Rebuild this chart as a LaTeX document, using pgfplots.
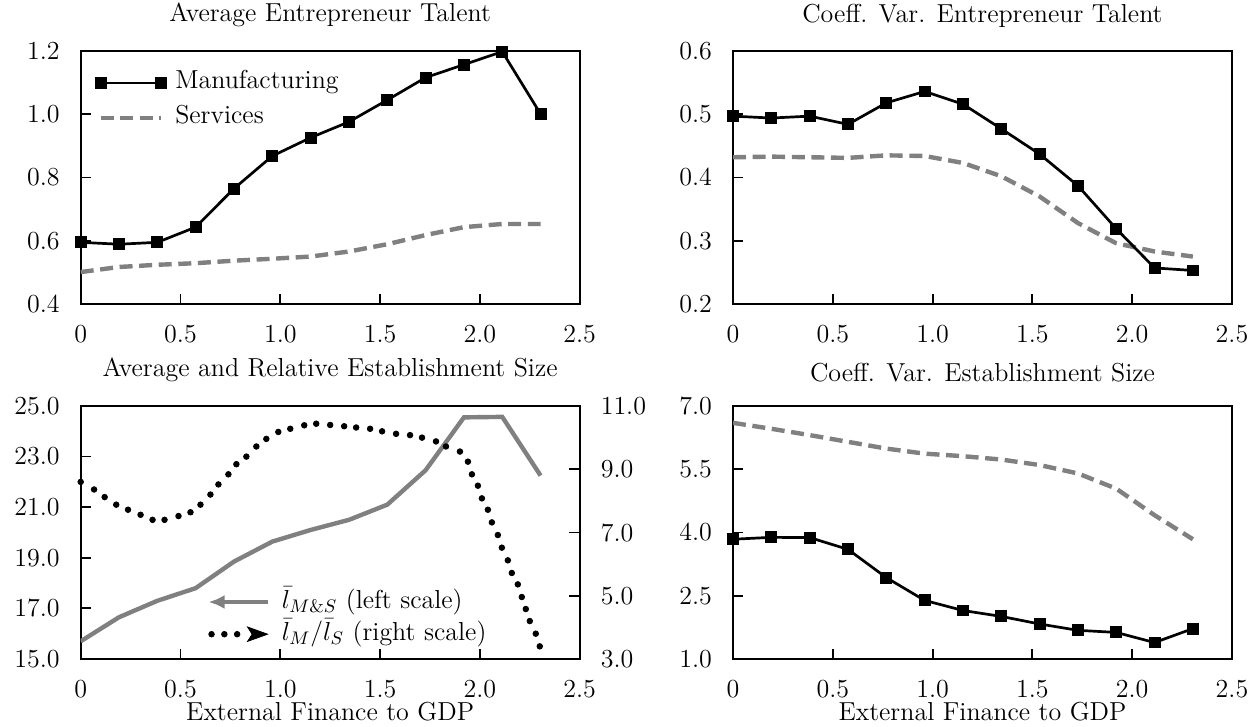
\RequirePackage{fix-cm}
\documentclass[border=0pt]{standalone}
\usepackage{fontspec}
\usepackage{pgfplots}
\pgfplotsset{compat=1.18}
\usetikzlibrary{arrows.meta}
\definecolor{sgray}{RGB}{128,128,128}

\newcommand{\fs}{\fontsize{13}{15.6}\selectfont}

\pgfplotsset{
  panel/.style={
    scale only axis, width=249.5pt, height=126.5pt,
    xmin=0, xmax=2.5,
    xtick={0,0.5,1,1.5,2,2.5},
    xticklabels={0,0.5,1.0,1.5,2.0,2.5},
    tick align=inside, tick pos=left,
    major tick length=5.2pt,
    every tick/.style={black, line width=0.9pt},
    axis line style={line width=1.1pt},
    font=\fs,
    tick label style={font=\fs},
    xticklabel shift=7pt, yticklabel shift=7pt,
    title style={font=\fs, yshift=2.4pt},
    label style={font=\fs},
    xlabel style={yshift=4.5pt},
    /pgf/number format/fixed,
    /pgf/number format/fixed zerofill,
    /pgf/number format/precision=1,
    /pgf/number format/assume math mode=true,
  },
  manu/.style={black, line width=1.35pt, mark=square*, mark size=2.3pt, mark options={solid}},
  serv/.style={sgray, line width=2.2pt, dash pattern=on 6.5pt off 3.3pt},
}

% x grid: 13 finance levels
\pgfplotstableread{
x     tm     ts     cm     cs     em     es     size
0     0.595  0.501  0.497  0.432  3.84   6.60   15.7
0.192 0.589  0.517  0.494  0.433  3.885  6.46   16.65
0.384 0.595  0.524  0.497  0.432  3.88   6.31   17.3
0.576 0.643  0.529  0.484  0.431  3.60   6.15   17.8
0.768 0.765  0.537  0.518  0.435  2.93   5.99   18.85
0.960 0.868  0.543  0.536  0.434  2.39   5.87   19.64
1.152 0.926  0.550  0.516  0.423  2.15   5.81   20.1
1.344 0.976  0.566  0.477  0.402  2.01   5.73   20.5
1.536 1.045  0.589  0.437  0.370  1.83   5.60   21.1
1.728 1.116  0.618  0.387  0.328  1.68   5.40   22.46
1.920 1.157  0.643  0.319  0.296  1.63   5.04   24.55
2.112 1.198  0.653  0.257  0.283  1.39   4.41   24.57
2.304 1.001  0.653  0.253  0.275  1.72   3.84   22.25
}\main

% relative size, right scale (dense dotted curve)
\pgfplotstableread{
x     r
0.00  8.60
0.067 8.36
0.12  8.12
0.178 7.88
0.237 7.72
0.30  7.56
0.36  7.40
0.42  7.40
0.49  7.52
0.55  7.64
0.60  7.88
0.65  8.20
0.69  8.52
0.74  8.84
0.78  9.16
0.83  9.40
0.88  9.72
0.93  9.96
0.99  10.18
1.05  10.28
1.12  10.39
1.18  10.44
1.25  10.40
1.32  10.36
1.38  10.32
1.45  10.28
1.51  10.20
1.58  10.12
1.65  10.08
1.71  10.00
1.78  9.88
1.83  9.72
1.90  9.56
1.94  9.24
1.96  8.84
1.99  8.48
2.01  8.08
2.04  7.72
2.06  7.32
2.09  6.92
2.11  6.52
2.14  6.12
2.16  5.72
2.19  5.36
2.21  4.96
2.23  4.58
2.25  4.20
2.28  3.80
2.30  3.40
}\rel

\begin{document}
\begin{tikzpicture}
\path[use as bounding box] (0,0) rectangle (625pt,363.5pt);

% top left
\begin{axis}[panel, at={(40.35pt,211.5pt)},
  ymin=0.4, ymax=1.2, ytick={0.4,0.6,0.8,1.0,1.2},
  title={Average Entrepreneur Talent},
  legend cell align=left,
  legend style={draw=none, fill=none, inner sep=0pt, font=\fs,
    at={(axis description cs:0.03,0.9226)}, anchor=north west,
    nodes={inner sep=0pt, text height=9pt, text depth=3pt},
    row sep=5.5pt,
    /tikz/every odd column/.append style={column sep=5pt}},
  legend image code/.code={\draw[#1] plot coordinates {(0pt,0pt) (30pt,0pt)};},
]
\addplot[manu] table[x=x, y=tm] {\main};
\addlegendentry{Manufacturing}
\addplot[serv] table[x=x, y=ts] {\main};
\addlegendentry{Services}
\end{axis}

% top right
\begin{axis}[panel, at={(366.5pt,211.5pt)},
  ymin=0.2, ymax=0.6, ytick={0.2,0.3,0.4,0.5,0.6},
  title={Coeff. Var. Entrepreneur Talent},
]
\addplot[serv] table[x=x, y=cs] {\main};
\addplot[manu] table[x=x, y=cm] {\main};
\end{axis}

% bottom left, left scale
\begin{axis}[panel, at={(40.35pt,34pt)},
  ymin=15, ymax=25, ytick={15,17,19,21,23,25},
  title={Average and Relative Establishment Size},
  xlabel={External Finance to GDP},
]
\addplot[sgray, line width=2.2pt] table[x=x, y=size] {\main};
\end{axis}

% bottom left, right scale
\begin{axis}[panel, at={(40.35pt,34pt)},
  axis x line=none, axis y line*=right, tick pos=right,
  ymin=3, ymax=11, ytick={3,5,7,9,11},
  legend cell align=left,
  legend style={draw=none, fill=none, inner sep=0pt, font=\fs,
    at={(axis description cs:0.251,0.047)}, anchor=south west,
    nodes={inner sep=0pt, text height=9.5pt, text depth=3pt},
    row sep=3.6pt,
    /tikz/every odd column/.append style={column sep=6pt}},
]
\addlegendimage{legend image code/.code={
  \draw[sgray, line width=2.2pt, {Latex[length=8pt,width=7pt]}-] (0pt,0pt) -- (29.5pt,0pt);}}
\addlegendentry{$\bar{l}_{M\&S}$ (left scale)}
\addplot[only marks, mark=*, mark size=1.4pt, black,
  legend image code/.code={
    \fill (1.5pt,0pt) circle (1.4pt);
    \fill (7.9pt,0pt) circle (1.4pt);
    \fill (14.3pt,0pt) circle (1.4pt);
    \fill (19.5pt,3.6pt) -- (29.5pt,0pt) -- (19.5pt,-3.6pt) -- (21.8pt,0pt) -- cycle;}]
  table[x=x, y=r] {\rel};
\addlegendentry{$\bar{l}_M/\bar{l}_S$ (right scale)}
\end{axis}

% bottom right
\begin{axis}[panel, at={(366.5pt,34pt)},
  ymin=1, ymax=7, ytick={1,2.5,4,5.5,7},
  title={Coeff. Var. Establishment Size},
  xlabel={External Finance to GDP},
]
\addplot[serv] table[x=x, y=es] {\main};
\addplot[manu] table[x=x, y=em] {\main};
\end{axis}
\end{tikzpicture}
\end{document}
